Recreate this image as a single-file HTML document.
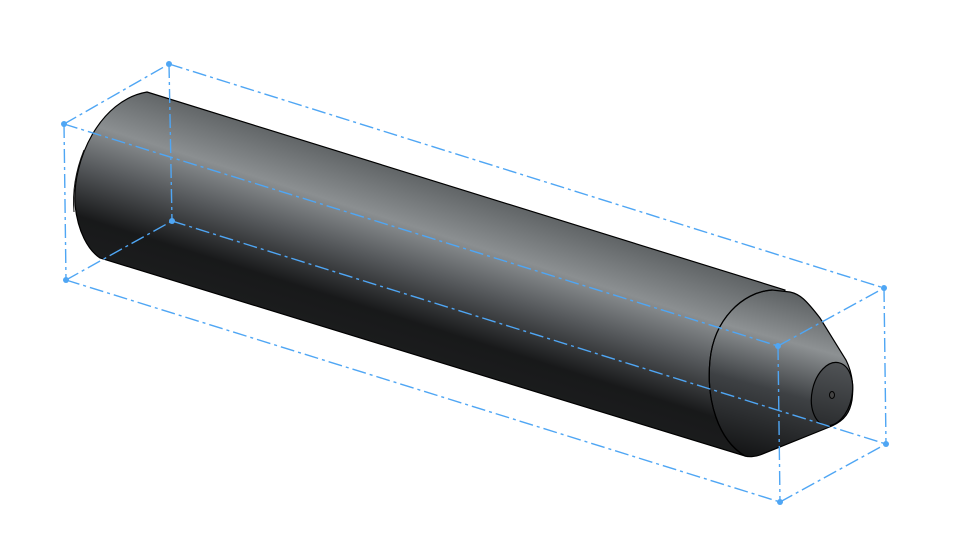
<!DOCTYPE html>
<html><head><meta charset="utf-8"><style>html,body{margin:0;padding:0;background:#fff}svg{display:block}</style></head>
<body>
<svg width="966" height="552" viewBox="0 0 966 552" xmlns="http://www.w3.org/2000/svg">
<defs>
<linearGradient id="g" gradientUnits="userSpaceOnUse" x1="455" y1="188" x2="400" y2="362">
<stop offset="0" stop-color="#616567"/>
<stop offset="0.27" stop-color="#8b8f91"/>
<stop offset="0.5" stop-color="#55585b"/>
<stop offset="0.77" stop-color="#18191a"/>
<stop offset="1" stop-color="#1c1d1e"/>
</linearGradient>
<linearGradient id="g2" gradientUnits="userSpaceOnUse" x1="800" y1="292" x2="755" y2="456">
<stop offset="0" stop-color="#5a5e60"/>
<stop offset="0.3" stop-color="#8d9193"/>
<stop offset="0.6" stop-color="#3e4144"/>
<stop offset="1" stop-color="#151617"/>
</linearGradient>
<linearGradient id="g3" gradientUnits="userSpaceOnUse" x1="0" y1="362" x2="0" y2="428">
<stop offset="0" stop-color="#505356"/>
<stop offset="1" stop-color="#2a2c2e"/>
</linearGradient>
</defs>
<!-- body -->
<path d="M147,92 L785,290 L745,456 L100,258 C88,250 78,232 75,205 C72,160 100,100 147,92 Z" fill="url(#g)" stroke="#000" stroke-width="1.2"/>
<path d="M84,150 C76,170 72,190 74,212" fill="none" stroke="#111" stroke-width="1"/>
<!-- cone -->
<path d="M772,290 L790,292 C800,294 806,300 820,318 L846,360 C852,372 854,385 852,400 C850,412 845,420 832,426 L760,455 C755,457 748,457 745,456 C718,440 706,400 710,360 C714,320 742,292 772,290 Z" fill="url(#g2)" stroke="#000" stroke-width="1.2"/>
<path d="M772,290 C742,292 714,320 710,360 C706,400 718,440 745,456" fill="none" stroke="#000" stroke-width="1.2"/>
<ellipse cx="832" cy="394" rx="20" ry="32" transform="rotate(12 832 394)" fill="url(#g3)" stroke="#000" stroke-width="1.2"/>
<ellipse cx="832" cy="395" rx="2.5" ry="3.5" fill="#444" stroke="#000" stroke-width="1"/>
<!-- bounding box -->
<g fill="none" stroke="#4fa6f4" stroke-width="1.4" stroke-dasharray="14 4 3 4">
<line x1="169" y1="64" x2="884" y2="288"/>
<line x1="64" y1="124" x2="778" y2="346"/>
<line x1="66" y1="280" x2="780" y2="502"/>
<line x1="172" y1="221" x2="886" y2="444"/>
<line x1="64" y1="124" x2="66" y2="280"/>
<line x1="169" y1="64" x2="172" y2="221"/>
<line x1="778" y1="346" x2="780" y2="502"/>
<line x1="884" y1="288" x2="886" y2="444"/>
<line x1="64" y1="124" x2="169" y2="64"/>
<line x1="66" y1="280" x2="172" y2="221"/>
<line x1="778" y1="346" x2="884" y2="288"/>
<line x1="780" y1="502" x2="886" y2="444"/>
</g>
<g fill="#4fa6f4">
<circle cx="169" cy="64" r="3"/><circle cx="64" cy="124" r="3"/><circle cx="66" cy="280" r="3"/><circle cx="172" cy="221" r="3"/>
<circle cx="884" cy="288" r="3"/><circle cx="778" cy="346" r="3"/><circle cx="780" cy="502" r="3"/><circle cx="886" cy="444" r="3"/>
</g>
</svg>
</body></html>
